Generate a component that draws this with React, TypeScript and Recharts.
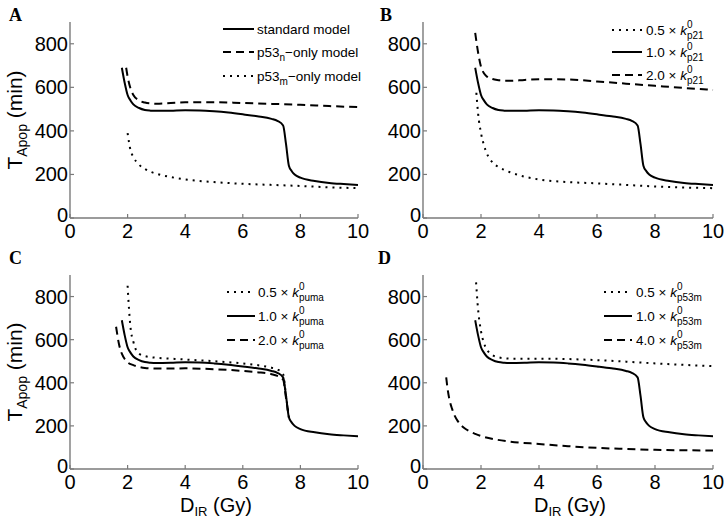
import { LineChart, Line, XAxis, YAxis } from "recharts";

const AXIS = "#7a7a7a";
const FONT = "'Liberation Sans', Arial, sans-serif";
const SERIF = "'Liberation Serif', 'Times New Roman', serif";

const doseTicks = [0, 2, 4, 6, 8, 10];
const timeTicks = [0, 200, 400, 600, 800];

// standard model, drawn solid in every panel
const stdDose = [1.8, 1.9, 2.0, 2.1, 2.2, 2.4, 2.6, 2.8, 3.0, 3.5, 4.0, 4.5, 5.0, 5.5, 6.0, 6.5, 7.0, 7.2, 7.4, 7.5, 7.6, 7.7, 7.8, 8.0, 8.5, 9.0, 9.5, 10];
const stdTime = [690, 620, 565, 540, 522, 505, 496, 493, 492, 493, 495, 494, 490, 484, 476, 467, 455, 446, 425, 340, 240, 215, 200, 185, 170, 161, 156, 152];

// A
const p53nDose = [1.95, 2.0, 2.1, 2.2, 2.4, 2.6, 2.8, 3.0, 3.5, 4, 5, 6, 7, 8, 9, 10];
const p53nTime = [690, 650, 595, 565, 540, 530, 526, 525, 528, 531, 532, 528, 524, 520, 514, 509];
const p53mDose = [2.0, 2.1, 2.2, 2.4, 2.6, 2.8, 3.0, 3.5, 4, 5, 6, 7, 8, 9, 10];
const p53mTime = [390, 312, 280, 245, 225, 212, 203, 188, 177, 165, 157, 152, 147, 141, 137];

// B
const p21LowDose = [1.84, 1.9, 2.0, 2.1, 2.2, 2.4, 2.6, 2.8, 3.0, 3.5, 4, 5, 6, 7, 8, 9, 10];
const p21LowTime = [575, 480, 390, 335, 297, 255, 234, 221, 210, 190, 177, 165, 159, 152, 145, 140, 137];
const p21HighDose = [1.8, 1.9, 2.0, 2.1, 2.2, 2.4, 2.6, 2.8, 3.0, 3.5, 4, 5, 6, 7, 8, 9, 10];
const p21HighTime = [850, 760, 695, 665, 650, 638, 633, 630, 630, 634, 637, 636, 627, 617, 607, 597, 588];

// C
const pumaLowDose = [2.0, 2.05, 2.1, 2.2, 2.3, 2.4, 2.6, 2.8, 3.0, 3.5, 4, 5, 6, 6.5, 7, 7.2, 7.4, 7.5, 7.6];
const pumaLowTime = [850, 740, 658, 590, 550, 535, 524, 519, 516, 512, 508, 500, 490, 482, 470, 462, 440, 340, 240];
const pumaHighDose = [1.6, 1.7, 1.8, 1.9, 2.0, 2.2, 2.4, 2.6, 3.0, 3.5, 4, 5, 6, 6.5, 7, 7.2, 7.4, 7.5, 7.6];
const pumaHighTime = [660, 580, 535, 510, 495, 482, 474, 469, 466, 466, 467, 463, 455, 449, 440, 432, 415, 330, 240];

// D
const p53mLowDose = [1.83, 1.9, 2.0, 2.1, 2.2, 2.4, 2.6, 2.8, 3.0, 3.5, 4, 5, 6, 7, 8, 9, 10];
const p53mLowTime = [866, 740, 640, 585, 555, 528, 518, 514, 512, 512, 512, 510, 505, 498, 490, 483, 477];
const p53mHighDose = [0.8, 0.85, 0.9, 1.0, 1.1, 1.2, 1.4, 1.6, 1.8, 2.0, 2.5, 3, 4, 5, 6, 7, 8, 9, 10];
const p53mHighTime = [425, 370, 330, 280, 245, 222, 192, 175, 163, 153, 137, 127, 116, 106, 98, 93, 89, 87, 86];

const SOLID = undefined;
const DASH = "8 5";
const DOT = "2 5";

const pts = (xs: number[], ys: number[]) => xs.map((x, i) => ({ x, y: ys[i] }));

const XTick = ({ x, y, payload }: any) => (
  <g>
    <line x1={x} x2={x} y1={y} y2={y - 4} stroke={AXIS} strokeWidth={1.2} />
    <text x={x} y={y + 20} textAnchor="middle" fontSize={20} fontFamily={FONT} fill="#000">
      {payload.value}
    </text>
  </g>
);

const YTick = ({ x, y, payload }: any) => (
  <g>
    <line x1={x} x2={x + 4} y1={y} y2={y} stroke={AXIS} strokeWidth={1.2} />
    <text x={x - 2} y={y + (payload.value === 0 ? 4 : 7)} textAnchor="end" fontSize={20} fontFamily={FONT} fill="#000">
      {payload.value}
    </text>
  </g>
);

type Series = { dose: number[]; time: number[]; dash?: string };

const Panel = ({ left, top, width, yW, rightM, topM, xH, series }: any) => (
  <div style={{ position: "absolute", left, top }}>
    <LineChart width={width} height={260} margin={{ top: topM, right: rightM, bottom: 0, left: 0 }}>
      <XAxis
        type="number"
        dataKey="x"
        domain={[0, 10]}
        ticks={doseTicks}
        interval={0}
        height={xH}
        tickSize={0}
        tickMargin={0}
        tickLine={false}
        tick={<XTick />}
        axisLine={{ stroke: AXIS, strokeWidth: 1.4 }}
      />
      <YAxis
        type="number"
        dataKey="y"
        domain={[0, 900]}
        ticks={timeTicks}
        interval={0}
        width={yW}
        tickSize={0}
        tickMargin={0}
        tickLine={false}
        tick={<YTick />}
        axisLine={{ stroke: AXIS, strokeWidth: 1.4 }}
      />
      {series.map((s: Series, i: number) => (
        <Line
          key={i}
          data={pts(s.dose, s.time)}
          dataKey="y"
          type="monotone"
          stroke="#000"
          strokeWidth={2}
          strokeDasharray={s.dash}
          dot={false}
          activeDot={false}
          isAnimationActive={false}
        />
      ))}
    </LineChart>
  </div>
);

// legend row: swatch + label
const Row = ({ x1, x2, tx, cy, dash, children }: any) => (
  <g>
    <line x1={x1} x2={x2} y1={cy} y2={cy} stroke="#000" strokeWidth={2} strokeDasharray={dash} />
    <text x={tx} y={cy + 5} fontSize={13.5} fontFamily={FONT} fill="#000">
      {children}
    </text>
  </g>
);

const K = ({ mult, sub }: { mult: string; sub: string }) => (
  <>
    {mult} × <tspan fontStyle="italic">k</tspan>
    <tspan fontSize={10} dy={-7}>0</tspan>
    <tspan fontSize={10} dx={-5.6} dy={11}>{sub}</tspan>
  </>
);

const YLabel = ({ cx, cy }: any) => (
  <text transform={`translate(${cx},${cy}) rotate(-90)`} textAnchor="middle" fontSize={21} fontFamily={FONT} fill="#000">
    T<tspan fontSize={14} dy={5}>Apop</tspan>
    <tspan dy={-5}> (min)</tspan>
  </text>
);

const XLabel = ({ cx, y }: any) => (
  <text x={cx} y={y} textAnchor="middle" fontSize={20} fontFamily={FONT} fill="#000">
    D<tspan fontSize={13} dy={4}>IR</tspan>
    <tspan dy={-4}> (Gy)</tspan>
  </text>
);

export default function App() {
  return (
    <div style={{ position: "fixed", left: 0, top: 0, width: 728, height: 520, background: "#fff", overflow: "hidden" }}>
      <Panel
        left={0} top={0} width={380} yW={70} rightM={22} topM={22} xH={42}
        series={[
          { dose: stdDose, time: stdTime, dash: SOLID },
          { dose: p53nDose, time: p53nTime, dash: DASH },
          { dose: p53mDose, time: p53mTime, dash: DOT },
        ]}
      />
      <Panel
        left={364} top={0} width={364} yW={59} rightM={15} topM={22} xH={42}
        series={[
          { dose: p21LowDose, time: p21LowTime, dash: DOT },
          { dose: stdDose, time: stdTime, dash: SOLID },
          { dose: p21HighDose, time: p21HighTime, dash: DASH },
        ]}
      />
      <Panel
        left={0} top={260} width={380} yW={70} rightM={22} topM={15} xH={51}
        series={[
          { dose: pumaLowDose, time: pumaLowTime, dash: DOT },
          { dose: pumaHighDose, time: pumaHighTime, dash: DASH },
          { dose: stdDose, time: stdTime, dash: SOLID },
        ]}
      />
      <Panel
        left={364} top={260} width={364} yW={59} rightM={15} topM={15} xH={51}
        series={[
          { dose: p53mLowDose, time: p53mLowTime, dash: DOT },
          { dose: stdDose, time: stdTime, dash: SOLID },
          { dose: p53mHighDose, time: p53mHighTime, dash: DASH },
        ]}
      />
      <svg width={728} height={520} style={{ position: "absolute", left: 0, top: 0, pointerEvents: "none" }}>
        <text x={9} y={21} fontSize={18} fontWeight="bold" fontFamily={SERIF}>A</text>
        <text x={380} y={21} fontSize={18} fontWeight="bold" fontFamily={SERIF}>B</text>
        <text x={9} y={264} fontSize={18} fontWeight="bold" fontFamily={SERIF}>C</text>
        <text x={378} y={264} fontSize={18} fontWeight="bold" fontFamily={SERIF}>D</text>

        <YLabel cx={22} cy={120} />
        <YLabel cx={22} cy={372} />
        <XLabel cx={216} y={512} />
        <XLabel cx={570} y={512} />

        <Row x1={223} x2={254} tx={257} cy={29}>standard model</Row>
        <Row x1={223} x2={254} tx={257} cy={52} dash={DASH}>
          p53<tspan fontSize={10} dy={4}>n</tspan><tspan dy={-4}>−only model</tspan>
        </Row>
        <Row x1={223} x2={254} tx={257} cy={76} dash={DOT}>
          p53<tspan fontSize={10} dy={4}>m</tspan><tspan dy={-4}>−only model</tspan>
        </Row>

        <Row x1={612} x2={642} tx={646} cy={30} dash={DOT}><K mult="0.5" sub="p21" /></Row>
        <Row x1={612} x2={642} tx={646} cy={52}><K mult="1.0" sub="p21" /></Row>
        <Row x1={612} x2={642} tx={646} cy={75} dash={DASH}><K mult="2.0" sub="p21" /></Row>

        <Row x1={227} x2={255} tx={258} cy={292} dash={DOT}><K mult="0.5" sub="puma" /></Row>
        <Row x1={227} x2={255} tx={258} cy={316}><K mult="1.0" sub="puma" /></Row>
        <Row x1={227} x2={255} tx={258} cy={340} dash={DASH}><K mult="2.0" sub="puma" /></Row>

        <Row x1={604} x2={632} tx={636} cy={292} dash={DOT}><K mult="0.5" sub="p53m" /></Row>
        <Row x1={604} x2={632} tx={636} cy={316}><K mult="1.0" sub="p53m" /></Row>
        <Row x1={604} x2={632} tx={636} cy={340} dash={DASH}><K mult="4.0" sub="p53m" /></Row>
      </svg>
    </div>
  );
}
